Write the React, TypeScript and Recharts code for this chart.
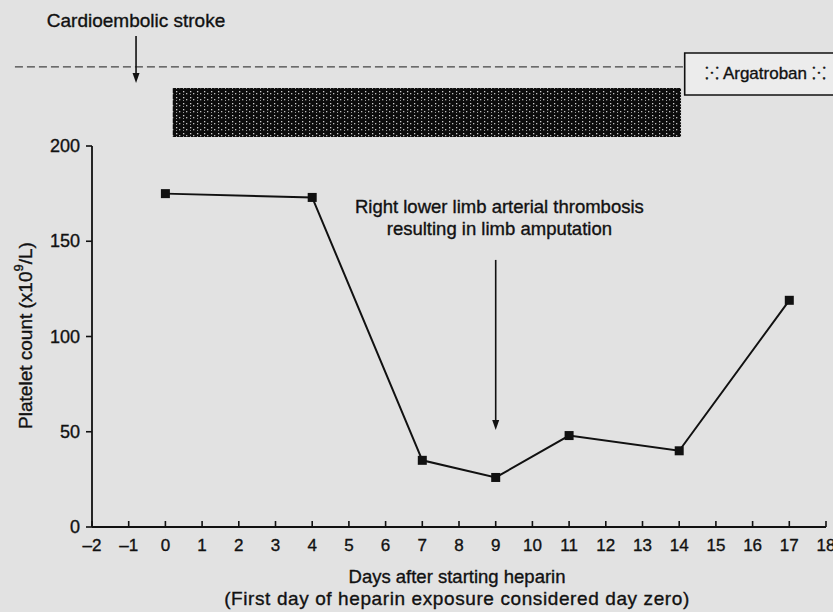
import {
  LineChart,
  Line,
  XAxis,
  YAxis,
  ReferenceArea,
  ReferenceLine,
  ReferenceDot,
} from "recharts";

const DAYS = [0, 4, 7, 9, 11, 14, 17];
const PLATELETS = [175, 173, 35, 26, 48, 40, 119];
const X_TICKS = [-2, -1, 0, 1, 2, 3, 4, 5, 6, 7, 8, 9, 10, 11, 12, 13, 14, 15, 16, 17, 18];
const Y_TICKS = [0, 50, 100, 150, 200];

// treatment bars above the plot (days / y in axis units)
const HEPARIN = { from: 0.2, to: 14.05, y1: 204.7, y2: 230.4 };
const ARGATROBAN = { from: 14.15, to: 18.4, y1: 226.8, y2: 248.8 };
const TIMELINE_Y = 241.5;
const STROKE_DAY = -0.8;
const AMPUTATION_DAY = 9;

const FONT = "Arial, 'Liberation Sans', Helvetica, sans-serif";
const INK = "#111";
// scanned print looks slightly heavier than regular weight
const HEAVY = { stroke: INK, strokeWidth: 0.35 };

const data = DAYS.map((d, i) => ({ day: d, count: PLATELETS[i] }));

function XTick({ x, y, payload }: any) {
  return (
    <g>
      <line x1={x} x2={x} y1={y - 6} y2={y} stroke={INK} strokeWidth={1.6} />
      <text x={x} y={y + 24} textAnchor="middle" fontSize={17} fontFamily={FONT} fill={INK} {...HEAVY}>
        {payload.value < 0 ? `\u2013${Math.abs(payload.value)}` : payload.value}
      </text>
    </g>
  );
}

function YTick({ x, y, payload }: any) {
  return (
    <text x={x} y={y} dy={6} textAnchor="end" fontSize={18} fontFamily={FONT} fill={INK} {...HEAVY}>
      {payload.value}
    </text>
  );
}

function Arrow({ x1, y1, x2, y2 }: any) {
  return (
    <g>
      <line x1={x1} y1={y1} x2={x2} y2={y2 - 6} stroke={INK} strokeWidth={1.6} />
      <polygon points={`${x2 - 3.5},${y2 - 10} ${x2 + 3.5},${y2 - 10} ${x2},${y2}`} fill={INK} />
    </g>
  );
}

function textShape(lines: string[], size: number, gap: number) {
  return (p: any) => (
    <text x={p.cx} y={p.cy} textAnchor="middle" fontSize={size} fontFamily={FONT} fill={INK} {...HEAVY}>
      {lines.map((l, i) => (
        <tspan key={i} x={p.cx} dy={i === 0 ? 0 : gap}>
          {l}
        </tspan>
      ))}
    </text>
  );
}

export default function App() {
  return (
    <div style={{ position: "absolute", left: 0, top: 0, width: 833, height: 612, background: "#e2e2e2", overflow: "hidden" }}>
      <LineChart width={833} height={612} data={data} margin={{ top: 146, right: 7, bottom: 0, left: 0 }}>
        <defs>
          <pattern id="hep" width="7" height="6" patternUnits="userSpaceOnUse">
            <rect width="7" height="6" fill="#0c0c0c" />
            <rect x="1" y="1" width="1.3" height="1.3" fill="#cfcfcf" />
            <rect x="4" y="3" width="1.3" height="1.3" fill="#bdbdbd" />
            <rect x="1" y="4" width="1" height="1" fill="#9a9a9a" />
          </pattern>
        </defs>
        <XAxis
          dataKey="day"
          type="number"
          domain={[-2, 18]}
          ticks={X_TICKS}
          interval={0}
          height={85}
          tickSize={0}
          tickMargin={0}
          tickLine={false}
          axisLine={{ stroke: INK, strokeWidth: 1.8 }}
          tick={<XTick />}
          label={{
            content: ({ viewBox }: any) => {
              const cx = viewBox.x + viewBox.width / 2 - 2;
              return (
                <text textAnchor="middle" fontFamily={FONT} fill={INK} {...HEAVY}>
                  <tspan x={cx} y={viewBox.y + 56} fontSize={18.5}>Days after starting heparin</tspan>
                  <tspan x={cx} y={viewBox.y + 78} fontSize={19} letterSpacing={0.6}>
                    (First day of heparin exposure considered day zero)
                  </tspan>
                </text>
              );
            },
          }}
        />
        <YAxis
          type="number"
          domain={[0, 200]}
          ticks={Y_TICKS}
          width={92}
          tickSize={6}
          tickMargin={6}
          axisLine={{ stroke: INK, strokeWidth: 1.8 }}
          tickLine={{ stroke: INK, strokeWidth: 1.6 }}
          tick={<YTick />}
          label={{
            content: ({ viewBox }: any) => {
              const cx = viewBox.x + 25;
              const cy = viewBox.y + viewBox.height / 2 - 1;
              return (
                <text
                  x={cx}
                  y={cy}
                  transform={`rotate(-90 ${cx} ${cy})`}
                  textAnchor="middle"
                  dominantBaseline="central"
                  fontSize={19}
                  fontFamily={FONT}
                  fill={INK}
                  {...HEAVY}
                >
                  Platelet count (x10<tspan dy={-7} fontSize={13}>9</tspan>
                  <tspan dy={7}>/L)</tspan>
                </text>
              );
            },
          }}
        />

        <ReferenceLine
          ifOverflow="visible"
          segment={[{ x: -4.1, y: TIMELINE_Y }, { x: ARGATROBAN.from, y: TIMELINE_Y }]}
          stroke="#444"
          strokeWidth={1.2}
          strokeDasharray="8 4"
        />
        <ReferenceArea
          ifOverflow="visible"
          x1={HEPARIN.from}
          x2={HEPARIN.to}
          y1={HEPARIN.y1}
          y2={HEPARIN.y2}
          fill="url(#hep)"
          fillOpacity={1}
          stroke="none"
        />
        <ReferenceArea
          ifOverflow="visible"
          x1={ARGATROBAN.from}
          x2={ARGATROBAN.to}
          y1={ARGATROBAN.y1}
          y2={ARGATROBAN.y2}
          fill="#ececec"
          fillOpacity={1}
          stroke={INK}
          strokeWidth={1.6}
        />
        <ReferenceDot
          ifOverflow="visible"
          x={16.35}
          y={235.3}
          r={0}
          shape={textShape(["\u2059 Argatroban \u2059"], 17, 0)}
        />
        <ReferenceLine
          ifOverflow="visible"
          segment={[{ x: STROKE_DAY, y: 257.7 }, { x: STROKE_DAY, y: 233.1 }]}
          shape={<Arrow />}
        />
        <ReferenceDot
          ifOverflow="visible"
          x={STROKE_DAY}
          y={262.5}
          r={0}
          shape={textShape(["Cardioembolic stroke"], 19, 0)}
        />
        <ReferenceLine
          ifOverflow="visible"
          segment={[{ x: AMPUTATION_DAY, y: 140.2 }, { x: AMPUTATION_DAY, y: 50.9 }]}
          shape={<Arrow />}
        />
        <ReferenceDot
          ifOverflow="visible"
          x={AMPUTATION_DAY + 0.1}
          y={165}
          r={0}
          shape={textShape(["Right lower limb arterial thrombosis", "resulting in limb amputation"], 18.5, 22)}
        />

        <Line
          dataKey="count"
          stroke={INK}
          strokeWidth={2}
          isAnimationActive={false}
          dot={(p: any) => (
            <rect key={`d-${p.index}`} x={p.cx - 4.5} y={p.cy - 4.5} width={9} height={9} fill={INK} />
          )}
          activeDot={false}
        />
      </LineChart>
    </div>
  );
}
